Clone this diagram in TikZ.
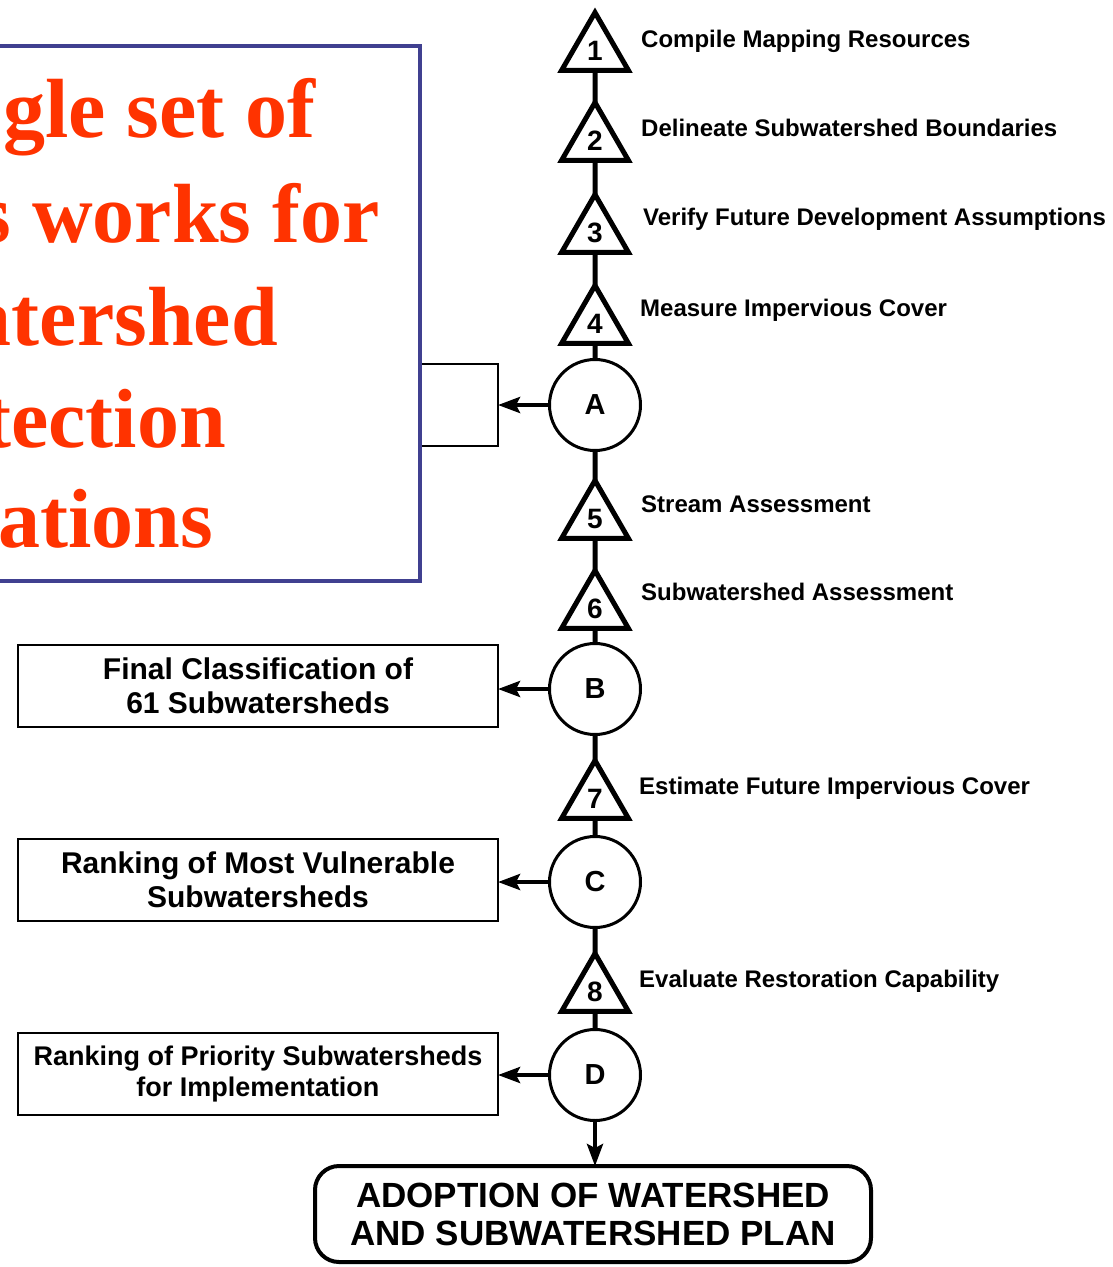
\documentclass[tikz,border=0pt]{standalone}
\usepackage{fontspec}
\setmainfont{Liberation Sans}
\newfontfamily\redserif{Liberation Serif}
\usetikzlibrary{shapes.geometric,arrows.meta,positioning}

\definecolor{redtext}{RGB}{255,51,0}
\definecolor{frameblue}{RGB}{64,64,144}

\tikzset{
  stepnum/.style={regular polygon, regular polygon sides=3, draw, line width=5pt,
    minimum size=77pt, inner sep=0pt, outer sep=0pt, font=\bfseries\fontsize{28}{30}\selectfont},
  milestone/.style={circle, draw, line width=3pt, minimum size=91pt, inner sep=0pt,
    outer sep=0pt, fill=white, font=\bfseries\fontsize{29}{30}\selectfont},
  steplabel/.style={anchor=base west, inner sep=0pt, font=\bfseries\fontsize{24}{28}\selectfont},
  resultbox/.style={draw, line width=2pt, minimum width=480pt, minimum height=82pt,
    inner sep=0pt, outer sep=0pt, align=center},
  planbox/.style={draw, line width=4pt, rounded corners=24pt, minimum width=556pt,
    minimum height=96pt, inner sep=0pt, outer sep=0pt, align=center,
    font=\bfseries\fontsize{35}{38}\selectfont},
  spine/.style={line width=5pt},
  feed/.style={line width=4pt, -{Stealth[length=22pt,width=16pt,inset=4pt]}},
  redline/.style={anchor=base east, inner sep=0pt, text=redtext,
    font=\redserif\bfseries\fontsize{84}{100}\selectfont}
}

\begin{document}
\begin{tikzpicture}[x=1pt,y=-1pt]
\useasboundingbox (0,0) rectangle (1112,1267);

% Steps along the spine
\node[stepnum] (t1) at (595,51) {1};
\node[stepnum] (t2) at (595,141) {2};
\node[stepnum] (t3) at (595,233) {3};
\node[stepnum] (t4) at (595,324) {4};
\node[milestone] (a) at (595,405) {A};
\node[stepnum] (t5) at (595,519) {5};
\node[stepnum] (t6) at (595,609) {6};
\node[milestone] (b) at (595,689) {B};
\node[stepnum] (t7) at (595,799) {7};
\node[milestone] (c) at (595,882) {C};
\node[stepnum] (t8) at (595,992) {8};
\node[milestone] (d) at (595,1075) {D};

% Spine links
\draw[spine] (t1.south) -- (t2.north);
\draw[spine] (t2.south) -- (t3.north);
\draw[spine] (t3.south) -- (t4.north);
\draw[spine] (t4.south) -- (a.north);
\draw[spine] (a.south) -- (t5.north);
\draw[spine] (t5.south) -- (t6.north);
\draw[spine] (t6.south) -- (b.north);
\draw[spine] (b.south) -- (t7.north);
\draw[spine] (t7.south) -- (c.north);
\draw[spine] (c.south) -- (t8.north);
\draw[spine] (t8.south) -- (d.north);

% Step labels
\node[steplabel] (l1) at (641,47) {Compile Mapping Resources};
\node[steplabel] (l2) at (641,136) {Delineate Subwatershed Boundaries};
\node[steplabel] (l3) at (643,225) {Verify Future Development Assumptions};
\node[steplabel] (l4) at (640,316) {Measure Impervious Cover};
\node[steplabel] (l5) at (641,512) {Stream Assessment};
\node[steplabel] (l6) at (641,600) {Subwatershed Assessment};
\node[steplabel] (l7) at (639,794) {Estimate Future Impervious Cover};
\node[steplabel] (l8) at (639,987) {Evaluate Restoration Capability};

% Result boxes
\node[resultbox] (boxa) at (258,405) {};
\node[resultbox, font=\bfseries\fontsize{30}{34}\selectfont] (boxb) at (258,686)
  {Final Classification of\\61 Subwatersheds};
\node[resultbox, font=\bfseries\fontsize{30}{34}\selectfont] (boxc) at (258,880)
  {Ranking of Most Vulnerable\\Subwatersheds};
\node[resultbox, font=\bfseries\fontsize{27}{31}\selectfont] (boxd) at (258,1074)
  {Ranking of Priority Subwatersheds\\for Implementation};

\draw[feed] (a.west) -- (a.west -| boxa.east);
\draw[feed] (b.west) -- (b.west -| boxb.east);
\draw[feed] (c.west) -- (c.west -| boxc.east);
\draw[feed] (d.west) -- (d.west -| boxd.east);

% Final plan
\node[planbox] (plan) at (593,1214) {ADOPTION OF WATERSHED\\AND SUBWATERSHED PLAN};
\draw[feed] (d.south) -- (d.south |- plan.north);

% Overlay callout
\node[draw=frameblue, line width=4pt, fill=white, inner sep=0pt, outer sep=0pt,
  minimum width=440pt, minimum height=535pt] (frame) at (200,313) {};
\node[redline] (line1) at (316,137) {gle set of};
\node[redline] (line2) at (380,242) {s works for};
\node[redline] (line3) at (278,345) {atershed};
\node[redline] (line4) at (226,447) {tection};
\node[redline] (line5) at (213,547) {ations};
\end{tikzpicture}
\end{document}
